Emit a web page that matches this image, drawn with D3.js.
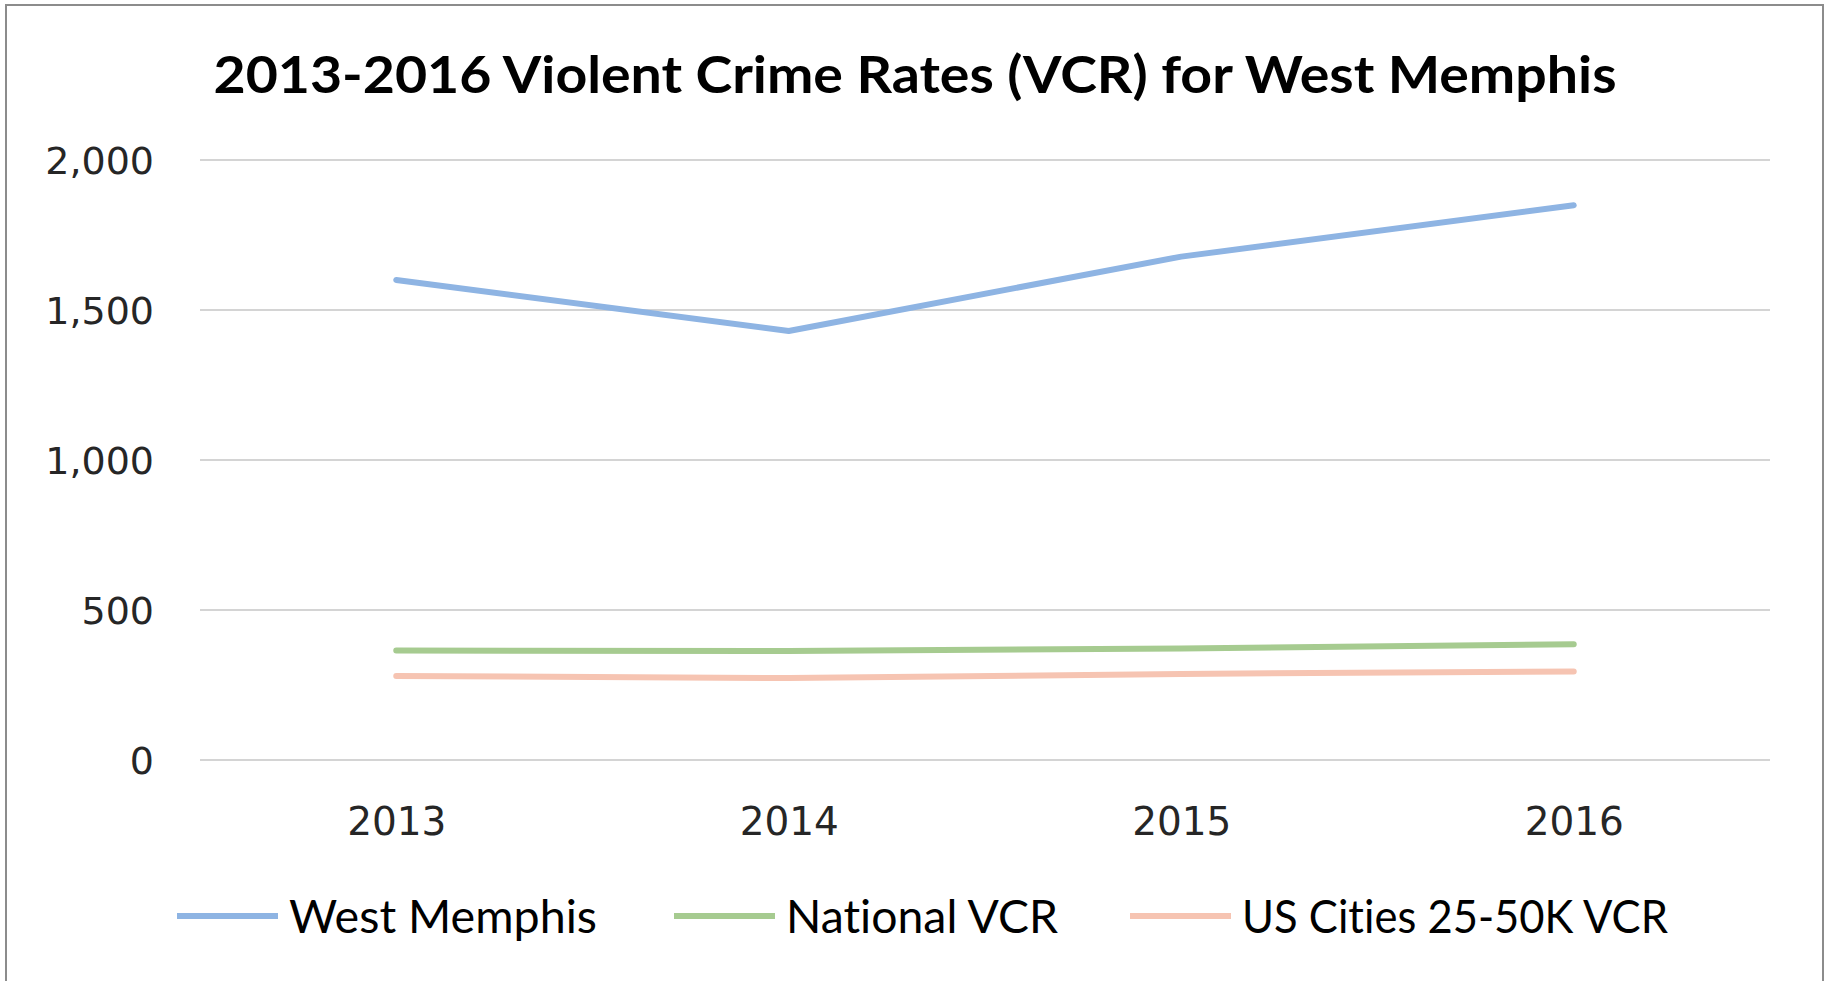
<!DOCTYPE html>
<html>
<head>
<meta charset="utf-8">
<script src="https://cdnjs.cloudflare.com/ajax/libs/d3/7.8.5/d3.min.js"></script>
<style>
  body { margin: 0; background: #fff; }
  svg { display: block; }
  text { font-variant-ligatures: none; }
</style>
</head>
<body>
<div id="chart"></div>
<script>
const years = ["2013", "2014", "2015", "2016"];
const westMemphis = [1600, 1430, 1678, 1849];
const nationalVCR = [365, 363, 372, 386];
const usCities = [280, 273, 287, 295];
const yTicks = [0, 500, 1000, 1500, 2000];
const seriesNames = ["West Memphis", "National VCR", "US Cities 25-50K VCR"];
const seriesColors = ["#8EB4E3", "#A6CB90", "#F6C4B2"];

const W = 1829, H = 981;
const plot = { left: 200, right: 1770, top: 160, bottom: 760 };

const svg = d3.select("#chart").append("svg")
    .attr("width", W)
    .attr("height", H);

svg.append("rect")
    .attr("x", 6).attr("y", 5)
    .attr("width", 1817).attr("height", 990)
    .attr("fill", "#fff")
    .attr("stroke", "#8c8c8c")
    .attr("stroke-width", 2);

const x = d3.scalePoint()
    .domain(years)
    .range([plot.left, plot.right])
    .padding(0.5);

const y = d3.scaleLinear()
    .domain([0, 2000])
    .range([plot.bottom, plot.top]);

// gridlines
svg.append("g")
    .selectAll("line")
    .data(yTicks)
    .join("line")
    .attr("x1", plot.left)
    .attr("x2", plot.right)
    .attr("y1", d => y(d))
    .attr("y2", d => y(d))
    .attr("stroke", "#d4d4d4")
    .attr("stroke-width", 2);

// y labels
const yAxis = svg.append("g")
    .attr("transform", `translate(154,0)`)
    .call(d3.axisLeft(y).tickValues(yTicks).tickSize(0).tickPadding(0).tickFormat(d3.format(",")));
yAxis.select(".domain").remove();
yAxis.selectAll("text")
    .attr("font-family", "DejaVu Sans")
    .attr("font-size", 38)
    .attr("fill", "#262626")
    .attr("dy", "0.36em");

// x labels
const xAxis = svg.append("g")
    .attr("transform", `translate(0,835)`)
    .call(d3.axisBottom(x).tickSize(0).tickPadding(0));
xAxis.select(".domain").remove();
xAxis.selectAll("text")
    .attr("font-family", "DejaVu Sans")
    .attr("font-size", 39)
    .attr("fill", "#262626")
    .attr("dy", 0);

// lines
const allSeries = [westMemphis, nationalVCR, usCities];
const line = d3.line()
    .x((d, i) => x(years[i]))
    .y(d => y(d));

svg.append("g")
    .selectAll("path")
    .data(allSeries)
    .join("path")
    .attr("d", d => line(d))
    .attr("fill", "none")
    .attr("stroke", (d, i) => seriesColors[i])
    .attr("stroke-width", 6)
    .attr("stroke-linecap", "round")
    .attr("stroke-linejoin", "round");

// title
svg.append("text")
    .attr("x", 915)
    .attr("y", 93)
    .attr("text-anchor", "middle")
    .attr("font-family", "Lato")
    .attr("font-weight", "bold")
    .attr("font-size", 52)
    .attr("textLength", 1403)
    .attr("lengthAdjust", "spacingAndGlyphs")
    .attr("fill", "#000")
    .text("2013-2016 Violent Crime Rates (VCR) for West Memphis");

// legend
const legendX = [177, 674, 1130];
const legendTextW = [308, 272, 426];
const legend = svg.append("g")
    .selectAll("g")
    .data(seriesNames)
    .join("g")
    .attr("transform", (d, i) => `translate(${legendX[i]},916)`);

legend.append("line")
    .attr("x1", 0).attr("x2", 101)
    .attr("stroke", (d, i) => seriesColors[i])
    .attr("stroke-width", 6);

legend.append("text")
    .attr("x", 112)
    .attr("y", 17)
    .attr("font-family", "Lato")
    .attr("font-size", 46)
    .attr("textLength", (d, i) => legendTextW[i])
    .attr("lengthAdjust", "spacingAndGlyphs")
    .attr("fill", "#000")
    .text(d => d);
</script>
</body>
</html>
